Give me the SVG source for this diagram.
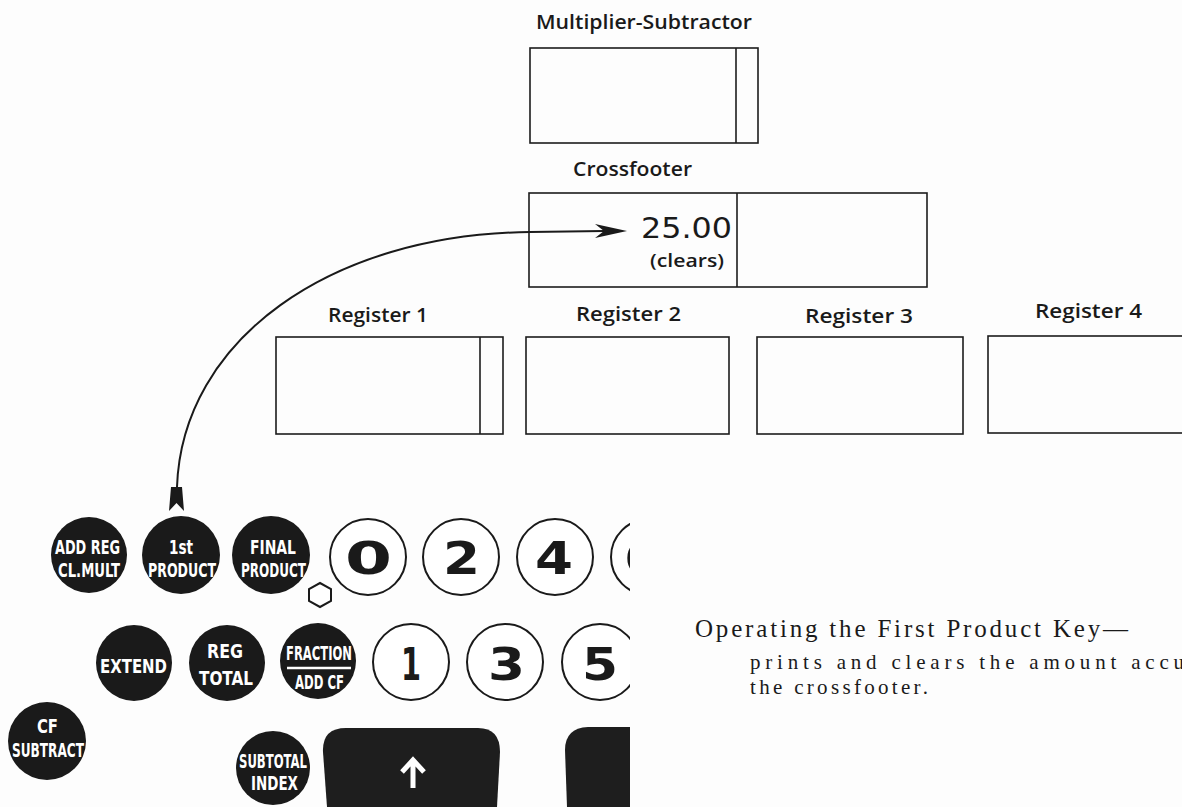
<svg xmlns="http://www.w3.org/2000/svg" width="1182" height="807" viewBox="0 0 1182 807">
<style>
.box{fill:none;stroke:#1c1c1c;stroke-width:1.6}
.lbl{font-family:"Open Sans","DejaVu Sans",sans-serif;font-weight:600;fill:#1a1a1a}
.key{fill:#1a1a1a}
.kt{font-family:"DejaVu Sans Condensed","DejaVu Sans",sans-serif;font-stretch:condensed;font-weight:bold;fill:#fff;font-size:20px}
.num{fill:#fff;stroke:#1a1a1a;stroke-width:2}
.dg{font-family:"DejaVu Sans",sans-serif;font-weight:bold;fill:#1a1a1a;font-size:45px}
.cap{font-family:"Liberation Serif","Times New Roman",serif;fill:#1a1a1a}
.bar{fill:#1e1e1e}
</style>
<defs>
<clipPath id="kb"><rect x="0" y="0" width="630" height="807"/></clipPath>
</defs>
<rect width="1182" height="807" fill="#fdfdfd"/>

<g id="multiplier-subtractor">
<text class="lbl" x="536" y="29" font-size="20" textLength="216" lengthAdjust="spacingAndGlyphs">Multiplier-Subtractor</text>
<rect class="box" x="530" y="48" width="228" height="95"/>
<line class="box" x1="736" y1="48" x2="736" y2="143"/>
</g>

<g id="crossfooter">
<text class="lbl" x="573" y="176" font-size="19" textLength="119" lengthAdjust="spacingAndGlyphs">Crossfooter</text>
<rect class="box" x="529" y="193" width="398" height="94"/>
<line class="box" x1="737" y1="193" x2="737" y2="287"/>
<text x="641" y="238" font-family="DejaVu Sans,sans-serif" font-size="29" fill="#1a1a1a" textLength="91" lengthAdjust="spacingAndGlyphs">25.00</text>
<text class="lbl" x="650" y="267" font-size="18" font-weight="500" textLength="74" lengthAdjust="spacingAndGlyphs">(clears)</text>
</g>

<g id="register-1">
<text class="lbl" x="328" y="322" font-size="20" textLength="100" lengthAdjust="spacingAndGlyphs">Register 1</text>
<rect class="box" x="276" y="337" width="227" height="97"/>
<line class="box" x1="480" y1="337" x2="480" y2="434"/>
</g>
<g id="register-2">
<text class="lbl" x="576" y="321" font-size="20" textLength="105" lengthAdjust="spacingAndGlyphs">Register 2</text>
<rect class="box" x="526" y="337" width="203" height="97"/>
</g>
<g id="register-3">
<text class="lbl" x="805" y="323" font-size="20" textLength="108" lengthAdjust="spacingAndGlyphs">Register 3</text>
<rect class="box" x="757" y="337" width="206" height="97"/>
</g>
<g id="register-4">
<text class="lbl" x="1035" y="318" font-size="20" textLength="107" lengthAdjust="spacingAndGlyphs">Register 4</text>
<rect class="box" x="988" y="336" width="210" height="97"/>
</g>

<g id="connectors">
<path d="M177,487 C182,340 330,234 530,232 L604,231" fill="none" stroke="#1a1a1a" stroke-width="2"/>
<polygon points="627,231 595,224 604,231 595,238" fill="#1a1a1a"/>
<polygon points="171,487 182,487 184,511 176.5,503 169,511" fill="#1a1a1a"/>
</g>

<g id="keyboard" clip-path="url(#kb)">
<g id="key-addreg">
<circle class="key" cx="89" cy="555" r="38"/>
<text class="kt" x="55" y="554" textLength="65" lengthAdjust="spacingAndGlyphs">ADD REG</text>
<text class="kt" x="58" y="577" textLength="62" lengthAdjust="spacingAndGlyphs">CL.MULT</text>
</g>
<g id="key-1st-product">
<circle class="key" cx="181" cy="555" r="39"/>
<text class="kt" x="169" y="554" textLength="24" lengthAdjust="spacingAndGlyphs">1st</text>
<text class="kt" x="148" y="577" textLength="68" lengthAdjust="spacingAndGlyphs">PRODUCT</text>
</g>
<g id="key-final-product">
<circle class="key" cx="271" cy="555" r="39"/>
<text class="kt" x="250" y="554" textLength="46" lengthAdjust="spacingAndGlyphs">FINAL</text>
<text class="kt" x="241" y="577" textLength="65" lengthAdjust="spacingAndGlyphs">PRODUCT</text>
</g>
<g id="key-extend">
<circle class="key" cx="134" cy="663" r="38"/>
<text class="kt" x="100" y="673" font-size="27" textLength="67" lengthAdjust="spacingAndGlyphs">EXTEND</text>
</g>
<g id="key-reg-total">
<circle class="key" cx="227" cy="663" r="38"/>
<text class="kt" x="207" y="658" font-size="21" textLength="36" lengthAdjust="spacingAndGlyphs">REG</text>
<text class="kt" x="199" y="685" font-size="23" textLength="54" lengthAdjust="spacingAndGlyphs">TOTAL</text>
</g>
<g id="key-fraction">
<circle class="key" cx="318" cy="661" r="38"/>
<text class="kt" x="286" y="660" textLength="66" lengthAdjust="spacingAndGlyphs">FRACTION</text>
<line x1="287" y1="668" x2="351" y2="668" stroke="#fff" stroke-width="2.5"/>
<text class="kt" x="295" y="689" textLength="49" lengthAdjust="spacingAndGlyphs">ADD CF</text>
</g>
<g id="key-cf-subtract">
<circle class="key" cx="47" cy="741" r="39"/>
<text class="kt" x="37" y="733" font-size="21" textLength="21" lengthAdjust="spacingAndGlyphs">CF</text>
<text class="kt" x="12" y="757" font-size="21" textLength="72" lengthAdjust="spacingAndGlyphs">SUBTRACT</text>
</g>
<g id="key-subtotal-index">
<circle class="key" cx="273" cy="768" r="37"/>
<text class="kt" x="239" y="768" textLength="68" lengthAdjust="spacingAndGlyphs">SUBTOTAL</text>
<text class="kt" x="251" y="790" textLength="47" lengthAdjust="spacingAndGlyphs">INDEX</text>
</g>
<polygon id="hex" points="320,583 331,589 331,601 320,607 309,601 309,589" fill="#fff" stroke="#1a1a1a" stroke-width="2"/>
<g id="key-0"><circle class="num" cx="368" cy="557" r="38"/><text class="dg" x="345" y="574" textLength="47" lengthAdjust="spacingAndGlyphs">0</text></g>
<g id="key-2"><circle class="num" cx="461" cy="557" r="38"/><text class="dg" x="443" y="574" textLength="37" lengthAdjust="spacingAndGlyphs">2</text></g>
<g id="key-4"><circle class="num" cx="555" cy="557" r="38"/><text class="dg" x="535" y="574" textLength="38" lengthAdjust="spacingAndGlyphs">4</text></g>
<g id="key-6"><circle class="num" cx="649" cy="557" r="38"/><text class="dg" x="624" y="574" textLength="37" lengthAdjust="spacingAndGlyphs">6</text></g>
<g id="key-1"><circle class="num" cx="411" cy="662" r="38"/><text class="dg" x="401" y="680" textLength="20" lengthAdjust="spacingAndGlyphs">1</text></g>
<g id="key-3"><circle class="num" cx="505" cy="662" r="38"/><text class="dg" x="488" y="680" textLength="37" lengthAdjust="spacingAndGlyphs">3</text></g>
<g id="key-5"><circle class="num" cx="600" cy="662" r="38"/><text class="dg" x="582" y="680" textLength="36" lengthAdjust="spacingAndGlyphs">5</text></g>
<g id="bar-left">
<path class="bar" d="M327,807 L323,752 Q322,728 346,728 L478,728 Q500,728 500,752 L497,807 Z"/>
<path d="M413,788 L413,762 M402,772 L413,760 L424,772" fill="none" stroke="#fff" stroke-width="5"/>
</g>
<g id="bar-right">
<path class="bar" d="M567,807 L565,750 Q565,728 588,727 L640,727 L640,807 Z"/>
</g>
</g>

<g id="caption">
<text class="cap" x="695" y="637" font-size="25" textLength="433" lengthAdjust="spacing">Operating the First Product Key—</text>
<text class="cap" x="750" y="669" font-size="21" textLength="434" lengthAdjust="spacing">prints and clears the amount accu</text>
<text class="cap" x="750" y="694" font-size="21" textLength="178" lengthAdjust="spacing">the crossfooter.</text>
</g>
</svg>
